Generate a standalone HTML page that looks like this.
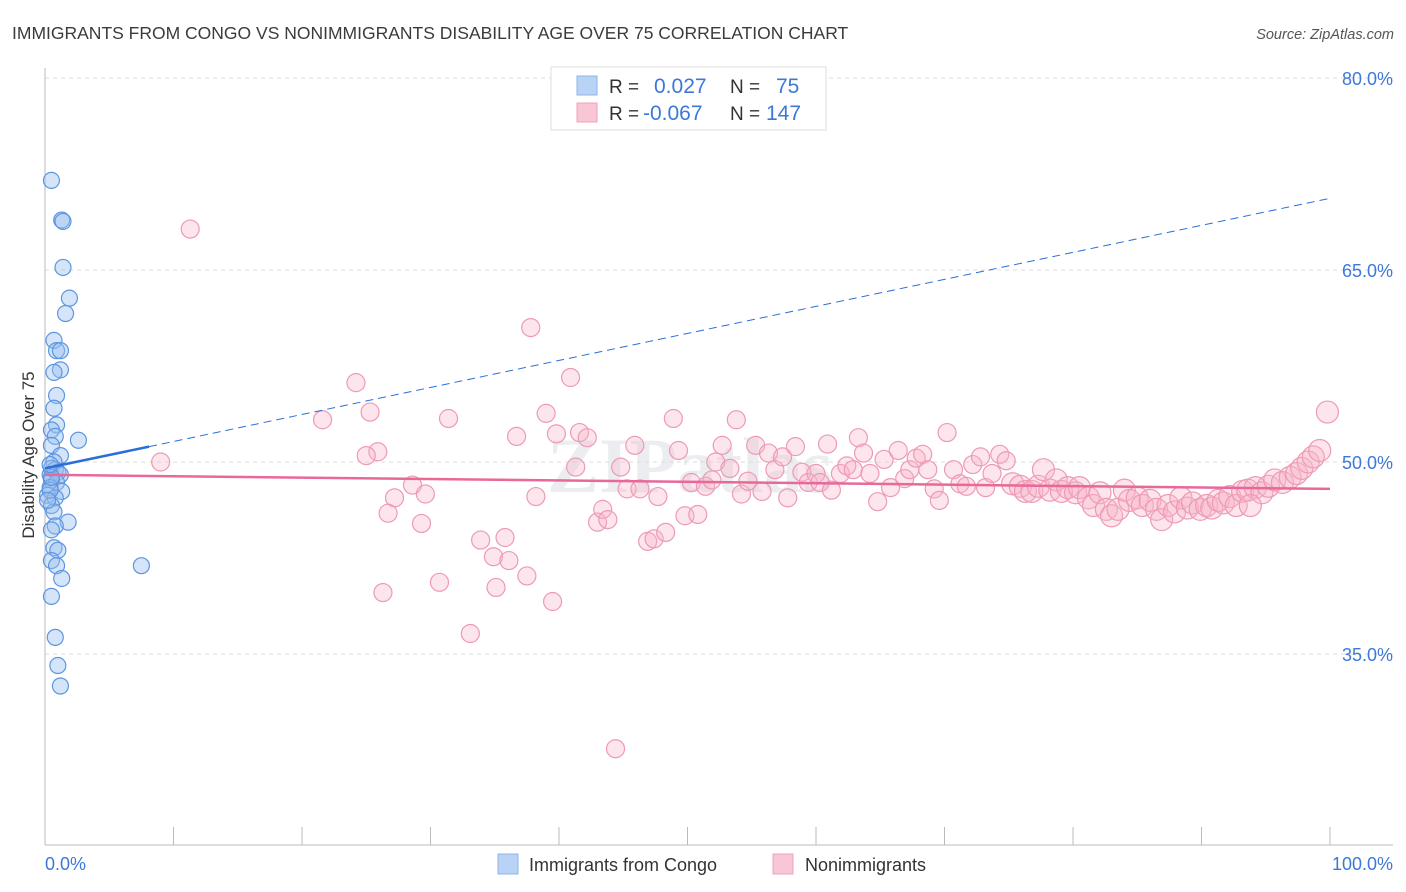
<!DOCTYPE html>
<html><head><meta charset="utf-8"><style>
body{margin:0;background:#fff;font-family:"Liberation Sans",sans-serif;}
svg{display:block}
</style></head><body>
<svg id="chart" width="1406" height="892" viewBox="0 0 1406 892" xmlns="http://www.w3.org/2000/svg">
<text x="12" y="39" font-size="17.5" fill="#3b3b3b">IMMIGRANTS FROM CONGO VS NONIMMIGRANTS DISABILITY AGE OVER 75 CORRELATION CHART</text>
<text x="1394" y="39" font-size="14.5" fill="#555" font-style="italic" text-anchor="end">Source: ZipAtlas.com</text>
<text x="690" y="492" font-size="78" fill="#e3e6ea" text-anchor="middle" font-family="Liberation Serif,serif" font-weight="bold" opacity="0.7">ZIPatlas</text>
<g id="grid"></g>
<g id="axes"></g>
<g id="pink"></g>
<g id="blue"></g>
<g id="trends"></g>
<text transform="translate(34,455) rotate(-90)" font-size="17" fill="#333" text-anchor="middle">Disability Age Over 75</text>
<g>
<rect x="551" y="67" width="275" height="63" fill="#fff" stroke="#ddd"/>
<rect x="577" y="76" width="20" height="19" fill="#b8d3f5" stroke="#8fb4e8"/>
<rect x="577" y="103" width="20" height="19" fill="#f9c6d5" stroke="#f0a3bb"/>
<text x="609" y="93" font-size="19" fill="#333">R = </text><text x="654" y="93" font-size="21" fill="#3d78d8">0.027</text>
<text x="730" y="93" font-size="19" fill="#333">N = </text><text x="776" y="93" font-size="21" fill="#3d78d8">75</text>
<text x="609" y="120" font-size="19" fill="#333">R = </text><text x="643" y="120" font-size="21" fill="#3d78d8">-0.067</text>
<text x="730" y="120" font-size="19" fill="#333">N = </text><text x="766" y="120" font-size="21" fill="#3d78d8">147</text>
</g>
<g>
<rect x="498" y="854" width="20" height="20" fill="#b8d3f5" stroke="#8fb4e8"/>
<text x="529" y="871" font-size="18" fill="#333">Immigrants from Congo</text>
<rect x="773" y="854" width="20" height="20" fill="#f9c6d5" stroke="#f0a3bb"/>
<text x="805" y="871" font-size="18" fill="#333">Nonimmigrants</text>
</g>
</svg>
<script>
const yTicks=[80,65,50,35];
const yTickLabels=["80.0%","65.0%","50.0%","35.0%"];
const xEnds=["0.0%","100.0%"];
const blueX=[0.5,1.3,1.4,1.4,1.9,1.6,0.7,0.9,1.2,1.2,0.7,0.9,0.7,0.9,0.5,0.8,2.6,0.5,1.2,0.7,0.5,0.8,1.0,0.4,1.2,0.5,0.9,0.4,1.3,0.2,0.8,0.5,0.7,1.8,0.8,0.5,0.7,1.0,0.5,0.9,1.3,0.5,7.5,0.8,1.0,1.2,0.4,0.2,0.5,0.4];
const blueY=[72.0,68.9,68.8,65.2,62.8,61.6,59.5,58.7,58.7,57.2,57.0,55.2,54.2,52.9,52.5,52.0,51.7,51.3,50.5,50.0,49.5,49.4,49.2,49.0,49.0,48.6,48.4,48.0,47.7,47.4,47.2,46.6,46.1,45.3,45.0,44.7,43.3,43.1,42.3,41.9,40.9,39.5,41.9,36.3,34.1,32.5,47.8,47.0,48.8,49.8];
const pinkX=[9.0,11.3,21.6,24.2,25.3,25.9,25.0,27.2,26.7,28.6,29.6,29.3,26.3,30.7,31.4,33.1,33.9,34.9,35.1,35.8,36.1,37.5,36.7,37.8,38.2,39.0,39.5,39.8,40.9,41.3,41.6,42.2,43.0,43.4,43.8,44.4,44.8,45.3,45.9,46.3,46.9,47.4,47.7,48.3,48.9,49.3,49.8,50.3,50.8,51.4,51.9,52.2,52.7,53.3,53.8,54.2,54.7,55.3,55.8,56.3,56.8,57.4,57.8,58.4,58.9,59.4,60.0,60.3,60.9,61.2,61.9,62.4,62.9,63.3,63.7,64.2,64.8,65.3,65.8,66.4,66.9,67.3,67.8,68.3,68.7,69.2,69.6,70.2,70.7,71.2,71.7,72.2,72.8,73.2,73.7,74.3,74.8,75.3,75.9,76.3,76.8,77.3,77.7,78.2,78.7,79.1,79.6,80.2,80.5,81.2,81.6,82.1,82.6,83.0,83.5,84.0,84.4,85.0,85.4,86.0,86.5,86.9,87.4,87.9,88.4,88.9,89.3,89.9,90.4,90.8,91.3,91.7,92.2,92.7,93.2,93.6,94.2,94.7,95.2,95.7,96.3,96.9,97.4,97.8,98.3,98.7,99.2,99.8,93.8];
const pinkY=[50.0,68.2,53.3,56.2,53.9,50.8,50.5,47.2,46.0,48.2,47.5,45.2,39.8,40.6,53.4,36.6,43.9,42.6,40.2,44.1,42.3,41.1,52.0,60.5,47.3,53.8,39.1,52.2,56.6,49.6,52.3,51.9,45.3,46.3,45.5,27.6,49.6,47.9,51.3,47.9,43.8,44.0,47.3,44.5,53.4,50.9,45.8,48.4,45.9,48.1,48.6,50.0,51.3,49.5,53.3,47.5,48.5,51.3,47.7,50.7,49.4,50.4,47.2,51.2,49.2,48.4,49.1,48.4,51.4,47.8,49.1,49.7,49.4,51.9,50.7,49.1,46.9,50.2,48.0,50.9,48.7,49.4,50.3,50.6,49.4,47.9,47.0,52.3,49.4,48.3,48.1,49.8,50.4,48.0,49.1,50.6,50.1,48.3,48.1,47.7,47.7,48.1,49.4,47.8,48.6,47.7,48.0,47.6,48.0,47.2,46.6,47.6,46.3,45.8,46.3,47.8,47.0,47.2,46.6,47.0,46.3,45.5,46.6,46.1,47.2,46.4,46.8,46.3,46.6,46.4,47.0,46.8,47.3,46.6,47.7,47.8,48.0,47.6,48.1,48.6,48.4,48.8,49.1,49.5,50.0,50.4,50.9,53.9,46.6];
const blueTrend=[[0,49.5],[8.1,51.2],[100,70.6]];
const pinkTrend=[[0,49.0],[100,47.9]];
const NS="http://www.w3.org/2000/svg";
const xs=v=>45+v*12.85, ys=v=>78+(80-v)*12.8;
function mk(tag,attrs,parent){const e=document.createElementNS(NS,tag);for(const k in attrs)e.setAttribute(k,attrs[k]);parent.appendChild(e);return e;}
const grid=document.getElementById('grid'),axes=document.getElementById('axes');
yTicks.forEach((t,i)=>{
 const l=mk('line',{x1:45,x2:1393,y1:ys(t),y2:ys(t),stroke:'#ddd','stroke-dasharray':'4,4'},grid);
 
 
 const tx=mk('text',{x:1393,y:ys(t)+7,'font-size':18,fill:'#3d78d8','text-anchor':'end'},axes);
 tx.textContent=yTickLabels[i];
 
 
});
mk('line',{x1:45,x2:45,y1:68,y2:845,stroke:'#bbb'},axes);
mk('line',{x1:45,x2:1393,y1:845,y2:845,stroke:'#bbb'},axes);
for(let i=0;i<=10;i++){const t=mk('line',{x1:xs(i*10),x2:xs(i*10),y1:827,y2:845,stroke:'#bbb'},axes);
 
 }
const x0=mk('text',{x:45,y:870,'font-size':18,fill:'#3d78d8'},axes);x0.textContent=xEnds[0];


const x1=mk('text',{x:1393,y:870,'font-size':18,fill:'#3d78d8','text-anchor':'end'},axes);x1.textContent=xEnds[1];


const pink=document.getElementById('pink');
pinkX.forEach((x,i)=>{const c=mk('circle',{cx:xs(x),cy:ys(pinkY[i]),r:x>75?11:9,fill:'rgba(247,180,200,0.35)',stroke:'#ee9ab5','stroke-width':1.2},pink);
 
 });
const blue=document.getElementById('blue');
blueX.forEach((x,i)=>{const c=mk('circle',{cx:xs(x),cy:ys(blueY[i]),r:8,fill:'rgba(150,190,240,0.4)',stroke:'#5d95e0','stroke-width':1.2},blue);
 
 });
const tr=document.getElementById('trends');
const b1=mk('line',{x1:xs(blueTrend[0][0]),y1:ys(blueTrend[0][1]),x2:xs(blueTrend[1][0]),y2:ys(blueTrend[1][1]),stroke:'#2a6fd6','stroke-width':2.5},tr);


const b2=mk('line',{x1:xs(blueTrend[1][0]),y1:ys(blueTrend[1][1]),x2:xs(blueTrend[2][0]),y2:ys(blueTrend[2][1]),stroke:'#2a6fd6','stroke-width':1,'stroke-dasharray':'8,5'},tr);


const p1=mk('line',{x1:xs(pinkTrend[0][0]),y1:ys(pinkTrend[0][1]),x2:xs(pinkTrend[1][0]),y2:ys(pinkTrend[1][1]),stroke:'#e8689a','stroke-width':2.5},tr);


</script>
</body></html>
